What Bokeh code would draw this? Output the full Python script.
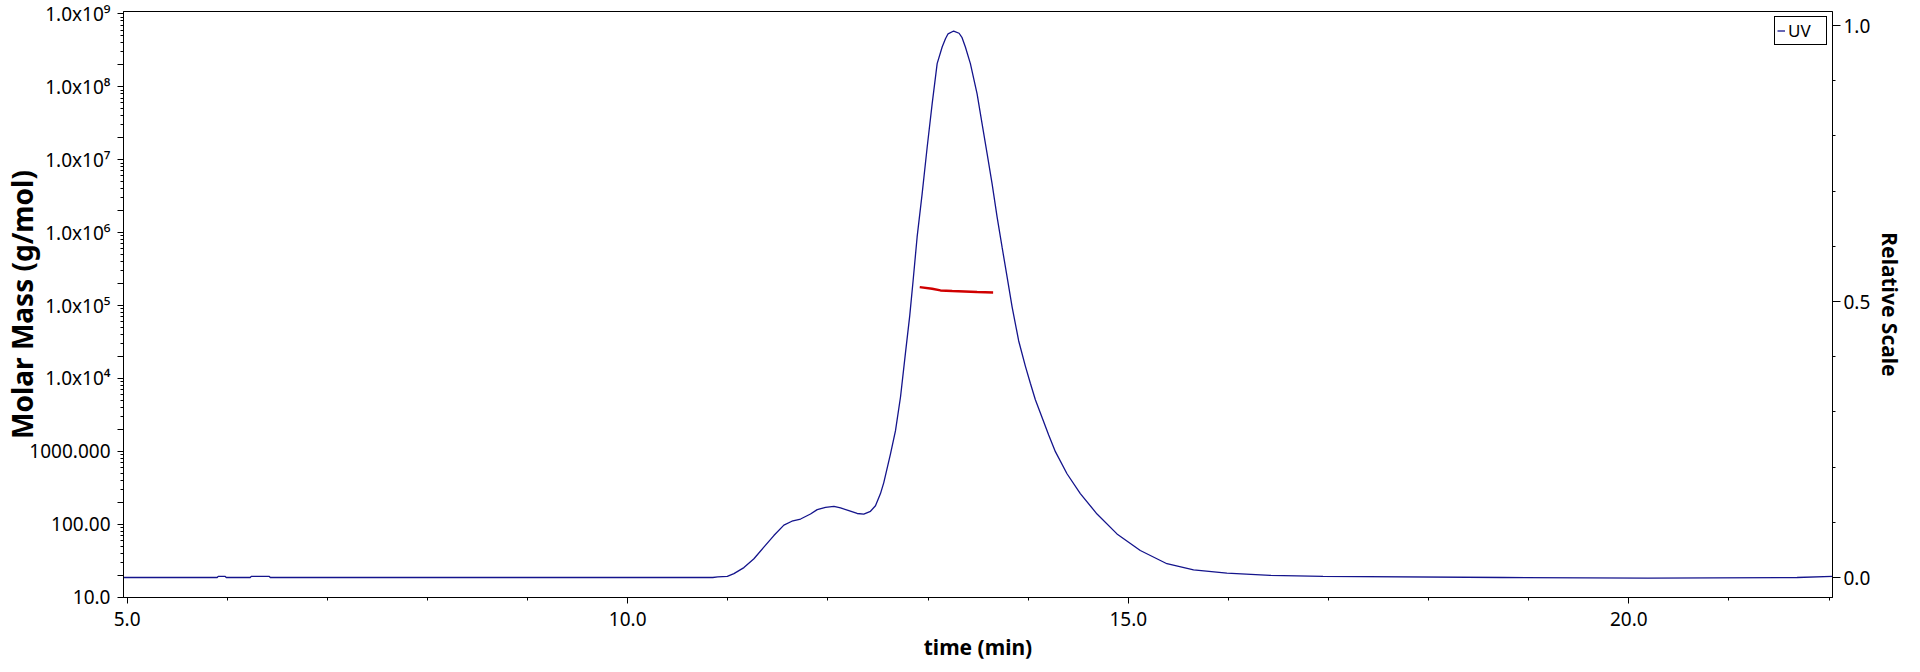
from bokeh.plotting import figure
from bokeh.models import Range1d, LinearAxis, FixedTicker, Legend, LegendItem, LinearScale
from bokeh.embed import file_html
from bokeh.resources import INLINE

# ---------------- data ----------------
uv_time = [4.964, 5.90, 5.91, 5.98, 5.99, 6.23, 6.24, 6.42, 6.43, 10.85, 10.90,
           10.995, 11.061, 11.161, 11.261, 11.36, 11.46, 11.56, 11.64, 11.727,
           11.826, 11.893, 11.976, 12.06, 12.126, 12.209, 12.292, 12.358, 12.425,
           12.475, 12.525, 12.558, 12.625, 12.675, 12.725, 12.774, 12.817, 12.851,
           12.891, 12.941, 12.991, 13.041, 13.091, 13.141, 13.174, 13.20, 13.256,
           13.31, 13.34, 13.373, 13.423, 13.490, 13.540, 13.590, 13.640, 13.690,
           13.740, 13.790, 13.840, 13.905, 13.972, 14.022, 14.072, 14.139, 14.205,
           14.272, 14.388, 14.521, 14.688, 14.887, 15.120, 15.386, 15.652, 15.985,
           16.417, 16.946, 18.74, 20.19, 21.68, 22.034]
uv_rel = [0.0, 0.0, 0.002, 0.002, 0.0, 0.0, 0.002, 0.002, 0.0, 0.0, 0.001,
          0.002, 0.007, 0.018, 0.034, 0.055, 0.076, 0.095, 0.102, 0.106,
          0.115, 0.123, 0.127, 0.129, 0.126, 0.121, 0.116, 0.115, 0.120,
          0.130, 0.152, 0.172, 0.224, 0.266, 0.327, 0.406, 0.474, 0.538,
          0.617, 0.695, 0.779, 0.858, 0.931, 0.961, 0.976, 0.985, 0.990,
          0.986, 0.978, 0.961, 0.931, 0.876, 0.822, 0.768, 0.713, 0.653,
          0.598, 0.544, 0.490, 0.429, 0.383, 0.352, 0.322, 0.290, 0.258,
          0.228, 0.188, 0.152, 0.115, 0.079, 0.049, 0.025, 0.014, 0.008,
          0.004, 0.002, 0.0, -0.001, 0.0, 0.002]

mm_time = [12.917, 13.041, 13.124, 13.241, 13.490, 13.650]
mm_mass = [1.79e5, 1.70e5, 1.61e5, 1.58e5, 1.53e5, 1.51e5]

x_ticks = [5, 10, 15, 20]
x_tick_labels = ["5.0", "10.0", "15.0", "20.0"]
x_minor = list(range(5, 23))

y_decades = [1e1, 1e2, 1e3, 1e4, 1e5, 1e6, 1e7, 1e8, 1e9]
y_tick_labels = ["10.0", "100.00", "1000.000", "1.0x10\u2074", "1.0x10\u2075",
                 "1.0x10\u2076", "1.0x10\u2077", "1.0x10\u2078", "1.0x10\u2079"]

rel_ticks = [0.0, 0.5, 1.0]
rel_tick_labels = ["0.0", "0.5", "1.0"]

FONT = "Noto Sans"

# ---------------- figure ----------------
p = figure(width=1920, height=672, output_backend="svg", toolbar_location=None,
           y_axis_type="log",
           x_range=Range1d(4.964, 22.034),
           y_range=Range1d(10 ** 0.996, 10 ** 9.032),
           min_border_left=122, min_border_right=88,
           min_border_top=11, min_border_bottom=75)
p.extra_y_ranges = {"rel": Range1d(-0.0362, 1.0254)}
p.extra_y_scales = {"rel": LinearScale()}
p.xgrid.visible = False
p.ygrid.visible = False
p.outline_line_color = "black"
p.outline_line_alpha = 1.0
p.outline_line_width = 1
p.background_fill_color = "white"
p.border_fill_color = "white"

def style_axis(ax, tick_out, minor_out, standoff):
    ax.axis_line_color = "black"
    ax.major_tick_line_color = "black"
    ax.minor_tick_line_color = "black"
    ax.major_tick_in = 0
    ax.minor_tick_in = 0
    ax.major_tick_out = tick_out
    ax.minor_tick_out = minor_out
    ax.major_label_standoff = standoff
    ax.major_label_text_font = FONT
    ax.major_label_text_font_size = "19px"
    ax.major_label_text_color = "black"
    ax.axis_label_text_font = FONT
    ax.axis_label_text_font_style = "bold"
    ax.axis_label_text_color = "black"

# bottom axis
xa = p.below[0]
xa.ticker = FixedTicker(ticks=x_ticks, minor_ticks=x_minor)
xa.major_label_overrides = {t: l for t, l in zip(x_ticks, x_tick_labels)}
style_axis(xa, 6, 3, 8)
xa.axis_label = "time (min)"
xa.axis_label_text_font_size = "21px"
xa.axis_label_standoff = 4

# left (log) axis
ya = p.left[0]
two_ticks = [2 * d for d in y_decades[:-1]]
minor = [k * d for d in y_decades[:-1] for k in range(3, 10)]
ya.ticker = FixedTicker(ticks=sorted(y_decades + two_ticks), minor_ticks=minor)
overrides = {t: l for t, l in zip(y_decades, y_tick_labels)}
overrides.update({t: "" for t in two_ticks})
ya.major_label_overrides = overrides
style_axis(ya, 6, 3, 7)
ya.axis_label = "Molar Mass (g/mol)"
ya.axis_label_text_font_size = "28px"
ya.axis_label_standoff = -15

# right axis
ra = LinearAxis(y_range_name="rel")
ra.ticker = FixedTicker(ticks=rel_ticks, minor_ticks=[i / 10 for i in range(11)])
ra.major_label_overrides = {t: l for t, l in zip(rel_ticks, rel_tick_labels)}
style_axis(ra, 8, 3, 3)
ra.axis_label = "Relative Scale"
ra.axis_label_text_font_size = "21px"
ra.axis_label_standoff = 3
p.add_layout(ra, "right")

# ---------------- data lines ----------------
uv = p.line(uv_time, uv_rel, y_range_name="rel", line_color="#14148C", line_width=1.3)
p.line(mm_time, mm_mass, line_color="#D00000", line_width=2.4)

legend = Legend(items=[LegendItem(label="UV", renderers=[uv])],
                location="top_right")
legend.border_line_color = "black"
legend.border_line_width = 1
legend.border_line_alpha = 1.0
legend.background_fill_alpha = 1.0
legend.label_text_font = FONT
legend.label_text_font_size = "17px"
legend.label_text_color = "black"
legend.padding = 2
legend.margin = 5
legend.spacing = 0
legend.glyph_width = 8
legend.glyph_height = 17
legend.label_height = 17
legend.label_standoff = 3
legend.label_width = 36
p.add_layout(legend)

open("out.html", "w").write(file_html(p, INLINE))
